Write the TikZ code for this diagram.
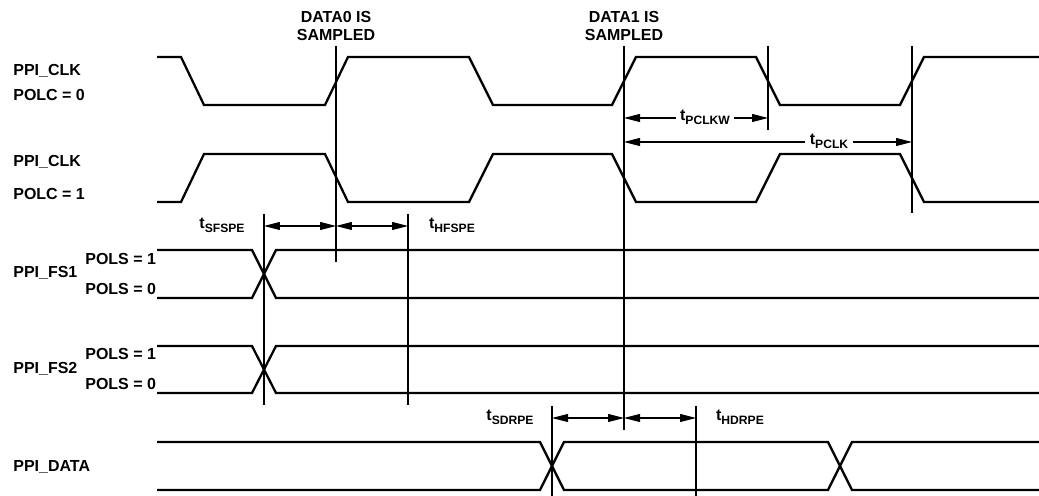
\documentclass[tikz,border=0pt]{standalone}
\usepackage{fontspec}
\setmainfont{Liberation Sans}
\usetikzlibrary{arrows.meta}
\newcommand{\tsub}[1]{t\raisebox{-1.9pt}{\fontsize{6.9}{7}\selectfont #1}}
\begin{document}
\begin{tikzpicture}[x=0.02cm,y=-0.02cm,
  font=\fontsize{9.1}{10.5}\selectfont\bfseries,
  sig/.style={line width=1.3pt, line join=miter},
  refline/.style={line width=0.6pt},
  dimarrow/.style={line width=0.6pt, {Triangle[length=3.2mm,width=1.6mm]}-{Triangle[length=3.2mm,width=1.6mm]}},
  lbl/.style={inner sep=0pt, anchor=base west},
  tlbl/.style={inner sep=0pt, anchor=base},
  tlblw/.style={inner xsep=2.5pt, inner ysep=1pt, anchor=base, fill=white},
  top/.style={inner sep=0pt, anchor=south, align=center}]
\useasboundingbox (0,0) rectangle (1039,496);

% signal names
\node[lbl] (clk0a) at (13,76) {PPI\_CLK};
\node[lbl] (clk0b) at (13,101) {POLC = 0};
\node[lbl] (clk1a) at (13,167) {PPI\_CLK};
\node[lbl] (clk1b) at (13,200) {POLC = 1};
\node[lbl] (fs1) at (13,278) {PPI\_FS1};
\node[lbl] (fs1a) at (85,265) {POLS = 1};
\node[lbl] (fs1b) at (85,295) {POLS = 0};
\node[lbl] (fs2) at (13,374) {PPI\_FS2};
\node[lbl] (fs2a) at (85,360) {POLS = 1};
\node[lbl] (fs2b) at (85,390) {POLS = 0};
\node[lbl] (data) at (13,472) {PPI\_DATA};

\node[top] (s0) at (336,41.5) {DATA0 IS\\SAMPLED};
\node[top] (s1) at (624,41.5) {DATA1 IS\\SAMPLED};

% waveforms
\draw[sig] (157,57) -- (181,57) -- (204,105) -- (325,105) -- (348,57) -- (469,57) -- (493,105) -- (612,105) -- (636,57) -- (756,57) -- (780,105) -- (900,105) -- (924,57) -- (1039,57);
\draw[sig] (157,202) -- (181,202) -- (204,154) -- (325,154) -- (348,202) -- (469,202) -- (493,154) -- (612,154) -- (636,202) -- (756,202) -- (780,154) -- (900,154) -- (924,202) -- (1039,202);
\draw[sig] (157,250) -- (252,250) -- (276,298) -- (1039,298);
\draw[sig] (157,298) -- (252,298) -- (276,250) -- (1039,250);
\draw[sig] (157,346) -- (252,346) -- (276,393) -- (1039,393);
\draw[sig] (157,393) -- (252,393) -- (276,346) -- (1039,346);
\draw[sig] (157,442) -- (540,442) -- (564,490) -- (828,490) -- (852,442) -- (1039,442);
\draw[sig] (157,490) -- (540,490) -- (564,442) -- (828,442) -- (852,490) -- (1039,490);

% reference lines
\coordinate (v0t) at (336,46);  \coordinate (v0b) at (336,262);
\coordinate (v1t) at (624,46);  \coordinate (v1b) at (624,430);
\coordinate (v2t) at (768,46);  \coordinate (v2b) at (768,130);
\coordinate (v3t) at (912,46);  \coordinate (v3b) at (912,213);
\coordinate (v4t) at (264,214); \coordinate (v4b) at (264,405);
\coordinate (v5t) at (408,214); \coordinate (v5b) at (408,405);
\coordinate (v6t) at (552,406); \coordinate (v6b) at (552,496);
\coordinate (v7t) at (696,406); \coordinate (v7b) at (696,496);
\foreach \v in {0,...,7} \draw[refline] (v\v t) -- (v\v b);

% dimension arrows
\coordinate (pw1) at (624,118); \coordinate (pw2) at (768,118);
\coordinate (pc1) at (624,142); \coordinate (pc2) at (912,142);
\coordinate (sf1) at (264,226); \coordinate (sf2) at (336,226); \coordinate (sf3) at (408,226);
\coordinate (sd1) at (552,418); \coordinate (sd2) at (624,418); \coordinate (sd3) at (696,418);
\draw[dimarrow] (pw1) -- (pw2);
\draw[dimarrow] (pc1) -- (pc2);
\draw[dimarrow] (sf1) -- (sf2);
\draw[dimarrow] (sf2) -- (sf3);
\draw[dimarrow] (sd1) -- (sd2);
\draw[dimarrow] (sd2) -- (sd3);

\node[tlblw] (tpclkw) at (705,121) {\tsub{PCLKW}};
\node[tlblw] (tpclk) at (829,145) {\tsub{PCLK}};
\node[tlbl] (tsfspe) at (222,229) {\tsub{SFSPE}};
\node[tlbl] (thfspe) at (452,229) {\tsub{HFSPE}};
\node[tlbl] (tsdrpe) at (510,421) {\tsub{SDRPE}};
\node[tlbl] (thdrpe) at (740,421) {\tsub{HDRPE}};
\end{tikzpicture}
\end{document}
